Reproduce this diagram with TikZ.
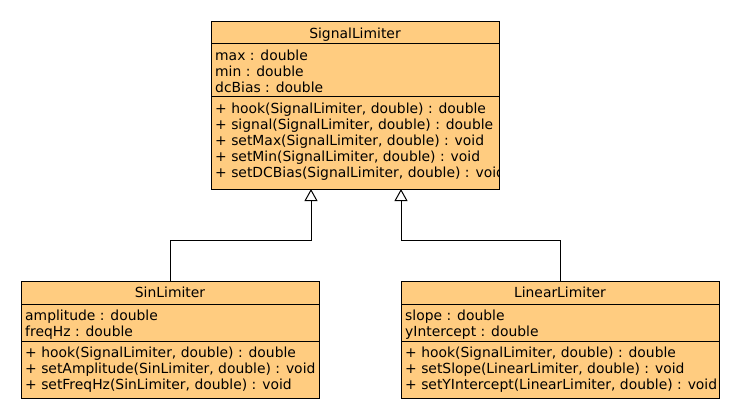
\documentclass[tikz,border=0pt]{standalone}
\usepackage{fontspec}
\setmainfont{DejaVu Sans}
\usetikzlibrary{arrows.meta, positioning}
\definecolor{classfill}{RGB}{255,204,128}
\newcommand{\umlfont}{\fontsize{13.9}{16}\selectfont}
\tikzset{
    classname/.style={
        rectangle,
        draw=black,
        line width=1pt,
        fill=classfill,
        outer sep=0pt,
        anchor=north west,
        text depth=0pt,
        font=\umlfont
    },
    compartment/.style={
        rectangle,
        draw=black,
        line width=1pt,
        fill=classfill,
        outer sep=0pt,
        inner sep=0pt
    },
    member/.style={
        anchor=north west,
        align=left,
        inner xsep=4pt,
        inner ysep=5.4pt,
        font=\umlfont
    },
    inherit/.style={
        draw=black,
        line width=1pt,
        -{Triangle[open, length=12pt, width=13pt]}
    }
}
\begin{document}
\begin{tikzpicture}[x=1pt, y=-1pt]
\useasboundingbox (0,0) rectangle (740,420);

% SignalLimiter
\node[classname, minimum width=288pt, minimum height=22pt] (sig_name) at (211,22) {SignalLimiter};
\node[compartment, minimum width=288pt, minimum height=53pt, below=0pt of sig_name] (sig_attr) {};
\node[compartment, minimum width=288pt, minimum height=92pt, below=0pt of sig_attr] (sig_ops) {};
\node[member] (sig_attr_text) at (sig_attr.north west) {max : double\\min : double\\dcBias : double};
\begin{scope}
\clip (sig_ops.north west) rectangle (sig_ops.south east);
\node[member] (sig_ops_text) at (sig_ops.north west) {+ hook(SignalLimiter, double) : double\\+ signal(SignalLimiter, double) : double\\+ setMax(SignalLimiter, double) : void\\+ setMin(SignalLimiter, double) : void\\+ setDCBias(SignalLimiter, double) : void};
\end{scope}

% SinLimiter
\node[classname, minimum width=298pt, minimum height=23pt] (sin_name) at (21,281) {SinLimiter};
\node[compartment, minimum width=298pt, minimum height=37pt, below=0pt of sin_name] (sin_attr) {};
\node[compartment, minimum width=298pt, minimum height=57pt, below=0pt of sin_attr] (sin_ops) {};
\node[member] (sin_attr_text) at (sin_attr.north west) {amplitude : double\\freqHz : double};
\begin{scope}
\clip (sin_ops.north west) rectangle (sin_ops.south east);
\node[member] (sin_ops_text) at (sin_ops.north west) {+ hook(SignalLimiter, double) : double\\+ setAmplitude(SinLimiter, double) : void\\+ setFreqHz(SinLimiter, double) : void};
\end{scope}

% LinearLimiter
\node[classname, minimum width=318pt, minimum height=23pt] (lin_name) at (401,281) {LinearLimiter};
\node[compartment, minimum width=318pt, minimum height=37pt, below=0pt of lin_name] (lin_attr) {};
\node[compartment, minimum width=318pt, minimum height=57pt, below=0pt of lin_attr] (lin_ops) {};
\node[member] (lin_attr_text) at (lin_attr.north west) {slope : double\\yIntercept : double};
\begin{scope}
\clip (lin_ops.north west) rectangle (lin_ops.south east);
\node[member] (lin_ops_text) at (lin_ops.north west) {+ hook(SignalLimiter, double) : double\\+ setSlope(LinearLimiter, double) : void\\+ setYIntercept(LinearLimiter, double) : void};
\end{scope}

% Generalization
\coordinate (sig_base_left) at ([xshift=-44pt]sig_ops.south);
\coordinate (sig_base_right) at ([xshift=46pt]sig_ops.south);
\draw[inherit] (sin_name.north) |- ([yshift=-51pt]sig_base_left) -- (sig_base_left);
\draw[inherit] (lin_name.north) |- ([yshift=-51pt]sig_base_right) -- (sig_base_right);

\end{tikzpicture}
\end{document}
